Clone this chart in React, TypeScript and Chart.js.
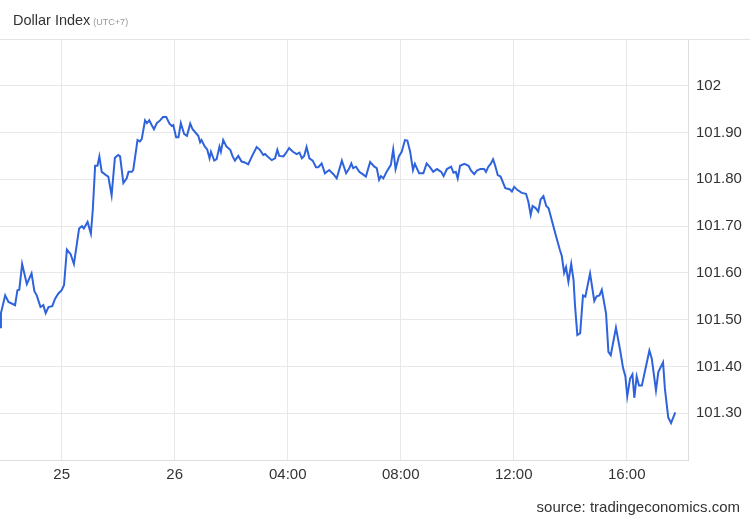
import React, { useEffect, useRef } from "react";
import { Chart, registerables } from "chart.js";

Chart.register(...registerables);

// minutes since 25th 00:00 (UTC+7)
const TIMES = [
  1069, 1071, 1076, 1080, 1087, 1101, 1106, 1110, 1116, 1126, 1136, 1142, 1147, 1155, 1161, 1166, 1172, 1180, 1186, 1193,
  1200, 1205, 1211, 1219, 1226, 1237, 1243, 1247, 1255, 1262, 1266, 1271, 1276, 1280, 1285, 1294, 1299, 1306, 1313, 1320,
  1324, 1331, 1338, 1342, 1349, 1352, 1361, 1366, 1370, 1377, 1381, 1386, 1391, 1396, 1402, 1409, 1415, 1422, 1429, 1434,
  1437, 1443, 1448, 1453, 1460, 1466, 1473, 1478, 1485, 1490, 1494, 1497, 1504, 1509, 1514, 1517, 1524, 1529, 1535, 1538,
  1543, 1550, 1558, 1563, 1568, 1575, 1582, 1589, 1596, 1604, 1614, 1621, 1628, 1632, 1639, 1646, 1653, 1658, 1662, 1671,
  1678, 1683, 1691, 1699, 1705, 1710, 1715, 1720, 1726, 1733, 1740, 1745, 1752, 1759, 1768, 1777, 1784, 1795, 1804, 1811,
  1815, 1819, 1825, 1832, 1839, 1846, 1855, 1864, 1869, 1874, 1878, 1883, 1890, 1899, 1904, 1909, 1916, 1922, 1929, 1934,
  1940, 1946, 1950, 1959, 1968, 1975, 1982, 1989, 1997, 2006, 2011, 2018, 2027, 2032, 2037, 2041, 2046, 2055, 2064, 2069,
  2076, 2082, 2089, 2097, 2101, 2106, 2111, 2116, 2120, 2126, 2132, 2142, 2151, 2156, 2161, 2168, 2177, 2186, 2191, 2196,
  2200, 2207, 2212, 2217, 2223, 2229, 2234, 2244, 2251, 2258, 2262, 2267, 2271, 2276, 2282, 2287, 2290, 2295, 2301, 2307,
  2312, 2322, 2331, 2336, 2342, 2347, 2356, 2361, 2366, 2377, 2386, 2392, 2397, 2401, 2407, 2412, 2416, 2421, 2426, 2432,
  2439, 2448, 2453, 2462, 2467, 2477, 2481, 2488, 2494, 2503,
];

const VALUES = [
  101.484, 101.514, 101.535, 101.552, 101.538, 101.531, 101.563, 101.564, 101.619, 101.576, 101.599, 101.561, 101.552, 101.527, 101.531, 101.514, 101.527, 101.529, 101.545, 101.556,
  101.563, 101.574, 101.650, 101.640, 101.619, 101.695, 101.700, 101.695, 101.709, 101.684, 101.734, 101.829, 101.829, 101.849, 101.816, 101.809, 101.806, 101.766, 101.846, 101.852,
  101.849, 101.792, 101.802, 101.816, 101.816, 101.820, 101.884, 101.881, 101.886, 101.926, 101.920, 101.926, 101.916, 101.907, 101.920, 101.926, 101.933, 101.933, 101.919, 101.914,
  101.916, 101.890, 101.890, 101.920, 101.897, 101.893, 101.919, 101.907, 101.899, 101.893, 101.879, 101.884, 101.870, 101.864, 101.845, 101.859, 101.840, 101.843, 101.870, 101.859,
  101.884, 101.870, 101.863, 101.849, 101.840, 101.850, 101.838, 101.836, 101.832, 101.849, 101.869, 101.863, 101.852, 101.854, 101.847, 101.841, 101.845, 101.863, 101.850, 101.849,
  101.859, 101.867, 101.859, 101.854, 101.857, 101.845, 101.850, 101.869, 101.845, 101.840, 101.826, 101.826, 101.834, 101.813, 101.820, 101.811, 101.802, 101.840, 101.813, 101.824,
  101.834, 101.824, 101.827, 101.816, 101.811, 101.806, 101.837, 101.827, 101.824, 101.799, 101.807, 101.802, 101.816, 101.831, 101.864, 101.822, 101.849, 101.859, 101.884, 101.883,
  101.859, 101.820, 101.833, 101.813, 101.813, 101.834, 101.826, 101.816, 101.822, 101.816, 101.807, 101.822, 101.827, 101.814, 101.816, 101.802, 101.829, 101.833, 101.829, 101.819,
  101.811, 101.819, 101.822, 101.822, 101.816, 101.827, 101.833, 101.843, 101.831, 101.809, 101.806, 101.781, 101.779, 101.774, 101.784, 101.777, 101.771, 101.769, 101.752, 101.724,
  101.743, 101.738, 101.731, 101.757, 101.764, 101.743, 101.738, 101.700, 101.674, 101.649, 101.636, 101.600, 101.612, 101.581, 101.619, 101.584, 101.531, 101.467, 101.471, 101.552,
  101.549, 101.599, 101.540, 101.550, 101.552, 101.564, 101.513, 101.431, 101.424, 101.483, 101.434, 101.397, 101.379, 101.336, 101.374, 101.383, 101.333, 101.379, 101.359, 101.359,
  101.392, 101.434, 101.417, 101.349, 101.388, 101.409, 101.352, 101.291, 101.279, 101.302,
];

const X_MIN = 1069;
const X_MAX = 2530;
const X_TICKS = [1200, 1440, 1680, 1920, 2160, 2400];
const X_TICK_LABELS = ["25", "26", "04:00", "08:00", "12:00", "16:00"];

const Y_MIN = 101.2;
const Y_MAX = 102.1;
const Y_TICKS = [101.2, 101.3, 101.4, 101.5, 101.6, 101.7, 101.8, 101.9, 102.0, 102.1];
const Y_TICK_LABELS = ["", "101.30", "101.40", "101.50", "101.60", "101.70", "101.80", "101.90", "102", ""];

const TITLE = "Dollar Index";
const SUBTITLE = "(UTC+7)";
const SOURCE = "source: tradingeconomics.com";

const FONT = "'Liberation Sans', Arial, Helvetica, sans-serif";

export default function App() {
  const ref = useRef<HTMLCanvasElement | null>(null);

  useEffect(() => {
    document.body.style.margin = "0";
    const canvas = ref.current;
    if (!canvas) return;

    const textPlugin = {
      id: "texts",
      afterDraw(chart: any) {
        const ctx = chart.ctx as CanvasRenderingContext2D;
        ctx.save();
        // top separator line
        ctx.strokeStyle = "#e3e3e3";
        ctx.lineWidth = 1;
        ctx.beginPath();
        ctx.moveTo(0, chart.chartArea.top + 0.5);
        ctx.lineTo(chart.width, chart.chartArea.top + 0.5);
        ctx.stroke();
        // title
        ctx.fillStyle = "#333333";
        ctx.textBaseline = "alphabetic";
        ctx.textAlign = "left";
        ctx.font = `14.5px ${FONT}`;
        ctx.fillText(TITLE, 13, 25);
        const w = ctx.measureText(TITLE).width;
        ctx.fillStyle = "#999999";
        ctx.font = `9px ${FONT}`;
        ctx.fillText(SUBTITLE, 13 + w + 3, 25);
        // source
        ctx.fillStyle = "#333333";
        ctx.font = `15px ${FONT}`;
        ctx.textAlign = "right";
        ctx.fillText(SOURCE, 740, 512);
        ctx.restore();
      },
    };

    const chart = new Chart(canvas, {
      type: "line",
      data: {
        datasets: [
          {
            data: TIMES.map((t, i) => ({ x: t, y: VALUES[i] })),
            borderColor: "#2f63db",
            borderWidth: 2,
            pointRadius: 0,
            tension: 0,
            fill: false,
          },
        ],
      },
      options: {
        responsive: false,
        animation: false,
        layout: { padding: { top: 39, left: 0, right: 0, bottom: 0 } },
        plugins: {
          legend: { display: false },
          tooltip: { enabled: false },
          title: { display: false },
        },
        scales: {
          x: {
            type: "linear",
            min: X_MIN,
            max: X_MAX,
            afterBuildTicks: (s: any) => {
              s.ticks = X_TICKS.map((v) => ({ value: v }));
            },
            afterFit: (s: any) => {
              s.height = 60;
            },
            grid: { color: "#e8e8e8", drawTicks: false },
            border: { color: "#dddddd" },
            ticks: {
              autoSkip: false,
              maxRotation: 0,
              padding: 6,
              color: "#333333",
              font: { family: FONT, size: 15 },
              callback: (v: any) => {
                const i = X_TICKS.indexOf(Number(v));
                return i >= 0 ? X_TICK_LABELS[i] : "";
              },
            },
          },
          y: {
            type: "linear",
            position: "right",
            min: Y_MIN,
            max: Y_MAX,
            afterBuildTicks: (s: any) => {
              s.ticks = Y_TICKS.map((v) => ({ value: v }));
            },
            afterFit: (s: any) => {
              s.width = 62;
            },
            grid: { color: "#e8e8e8", drawTicks: false },
            border: { color: "#dddddd" },
            ticks: {
              autoSkip: false,
              padding: 8,
              color: "#333333",
              font: { family: FONT, size: 15 },
              callback: (_v: any, i: number) => Y_TICK_LABELS[i] ?? "",
            },
          },
        },
      },
      plugins: [textPlugin],
    });

    return () => chart.destroy();
  }, []);

  return <canvas ref={ref} width={750} height={520} style={{ display: "block" }} />;
}
